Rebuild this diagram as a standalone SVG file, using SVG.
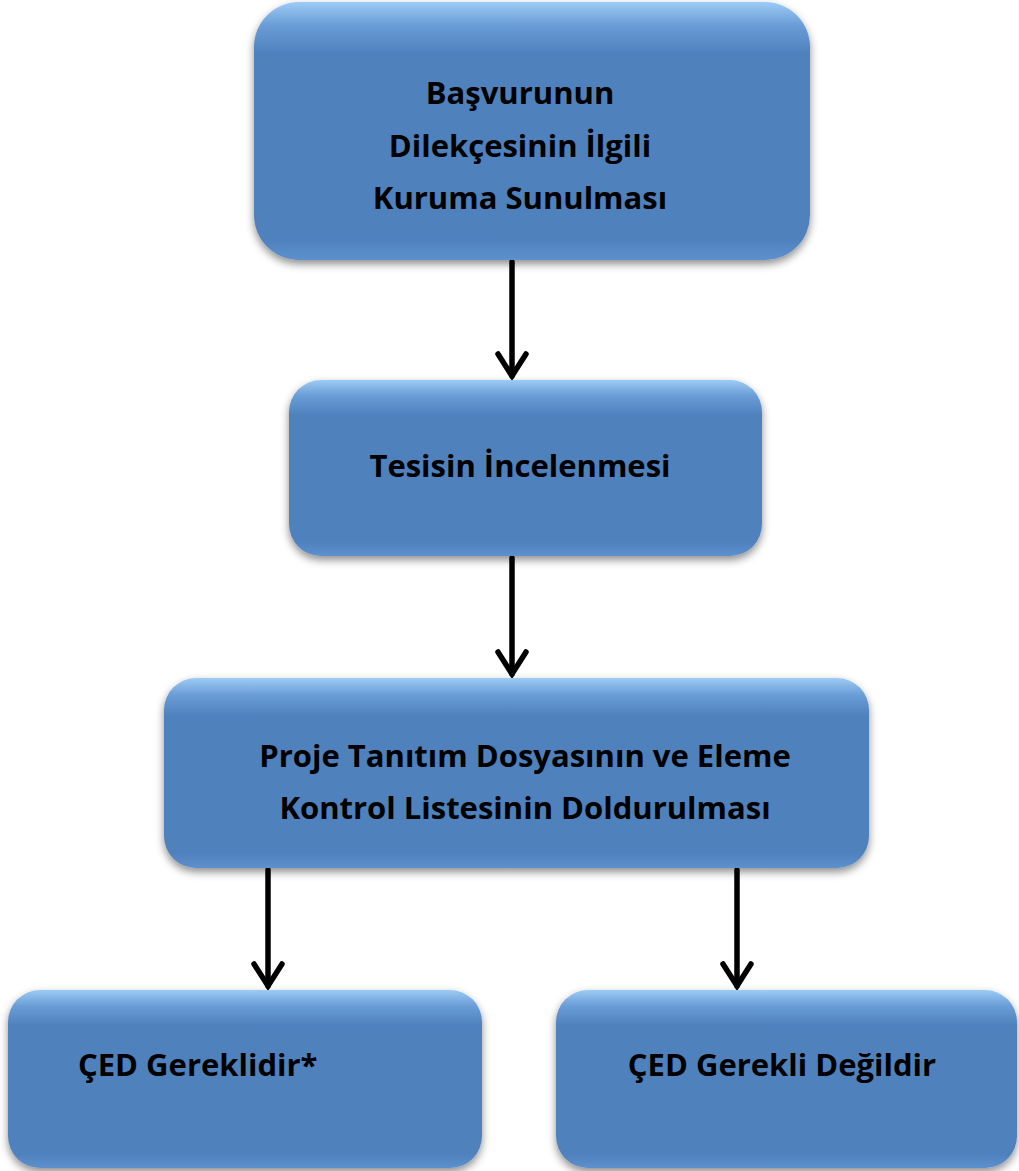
<svg xmlns="http://www.w3.org/2000/svg" width="1019" height="1171" viewBox="0 0 1019 1171">
<defs>
<linearGradient id="g" x1="0" y1="0" x2="0" y2="1">
<stop offset="0" stop-color="#9ccbf5"/>
<stop offset="0.09" stop-color="#6a9dd6"/>
<stop offset="0.2" stop-color="#4f81bd"/>
<stop offset="0.92" stop-color="#4f81bd"/>
<stop offset="1" stop-color="#5d90cd"/>
</linearGradient>
<filter id="sh" x="-10%" y="-10%" width="120%" height="125%">
<feDropShadow dx="0" dy="4" stdDeviation="4" flood-color="#000" flood-opacity="0.45"/>
</filter>
</defs>
<style>
.box{fill:url(#g);filter:url(#sh)}
.t{font-family:"Open Sans","Liberation Sans",sans-serif;font-weight:bold;font-size:31px;fill:#000;text-anchor:middle}
.c{stroke:#000;stroke-width:5.5;fill:none;stroke-linecap:round}
</style>
<rect width="1019" height="1171" fill="#fff"/>
<g id="connectors">
<path class="c" d="M512 262V376"/><path class="c" d="M498 354L512 376L526 354"/>
<path class="c" d="M512 558V674"/><path class="c" d="M498 652L512 674L526 652"/>
<path class="c" d="M268 870V986"/><path class="c" d="M254 964L268 986L282 964"/>
<path class="c" d="M737 870V986"/><path class="c" d="M723 964L737 986L751 964"/>
</g>
<g id="n1">
<rect class="box" x="254" y="2" width="556" height="258" rx="45"/>
<text class="t" x="520" y="104">Başvurunun</text>
<text class="t" x="520" y="157">Dilekçesinin İlgili</text>
<text class="t" x="520" y="209">Kuruma Sunulması</text>
</g>
<g id="n2">
<rect class="box" x="289" y="380" width="473" height="176" rx="32"/>
<text class="t" x="520" y="477">Tesisin İncelenmesi</text>
</g>
<g id="n3">
<rect class="box" x="164" y="678" width="705" height="190" rx="32"/>
<text class="t" x="525" y="767">Proje Tanıtım Dosyasının ve Eleme</text>
<text class="t" x="525" y="819">Kontrol Listesinin Doldurulması</text>
</g>
<g id="n4">
<rect class="box" x="8" y="990" width="474" height="178" rx="32"/>
<text class="t" x="78" y="1076" style="text-anchor:start">ÇED Gereklidir*</text>
</g>
<g id="n5">
<rect class="box" x="556" y="990" width="461" height="178" rx="32"/>
<text class="t" x="782" y="1076">ÇED Gerekli Değildir</text>
</g>
</svg>
